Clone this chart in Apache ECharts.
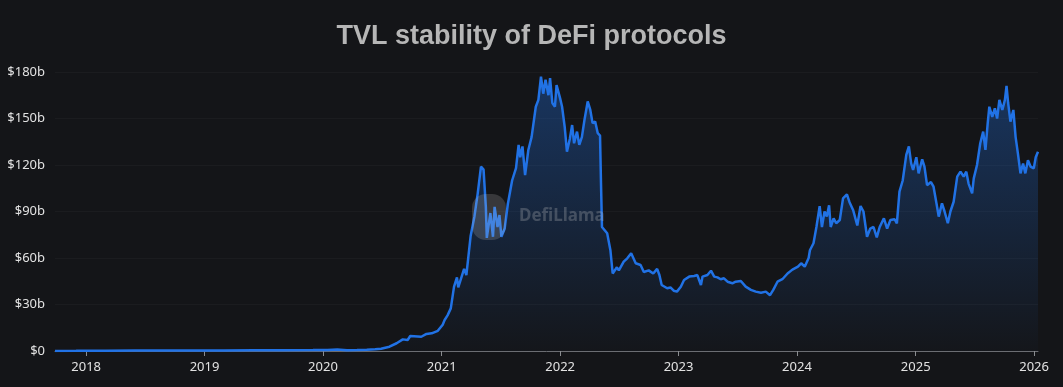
<!DOCTYPE html>
<html>
<head>
<meta charset="utf-8">
<script src="https://cdn.jsdelivr.net/npm/echarts@6/dist/echarts.min.js"></script>
<style>
html,body{margin:0;padding:0;background:#141518;}
#chart{width:1063px;height:387px;}
</style>
</head>
<body>
<div id="chart"></div>
<script>
const titleText = 'TVL stability of DeFi protocols';
const yTicks = [0, 30, 60, 90, 120, 150, 180];
const dates = [
'2017-09-27','2017-12-01','2018-03-01','2018-06-01','2018-09-01','2018-12-01','2019-03-01','2019-06-01','2019-09-01','2019-12-01',
'2020-01-15','2020-02-14','2020-03-15','2020-04-15','2020-05-15','2020-06-10','2020-06-28','2020-07-24','2020-08-15','2020-09-03',
'2020-09-18','2020-09-26','2020-10-30','2020-11-15','2020-12-01','2020-12-20','2021-01-04','2021-01-10','2021-01-19','2021-01-29',
'2021-02-08','2021-02-17','2021-02-21','2021-03-11','2021-03-18','2021-03-31','2021-04-12','2021-04-22','2021-05-02','2021-05-10',
'2021-05-17','2021-05-20','2021-05-31','2021-06-08','2021-06-13','2021-06-22','2021-06-28','2021-07-04','2021-07-14','2021-07-24',
'2021-08-06','2021-08-18','2021-08-26','2021-08-31','2021-09-07','2021-09-15','2021-09-25','2021-10-05','2021-10-18','2021-10-26',
'2021-11-03','2021-11-10','2021-11-17','2021-11-26','2021-12-01','2021-12-08','2021-12-16','2021-12-21','2022-01-01','2022-01-07',
'2022-01-15','2022-01-22','2022-01-31','2022-02-07','2022-02-13','2022-02-22','2022-03-01','2022-03-09','2022-03-17','2022-03-27',
'2022-04-04','2022-04-11','2022-04-19','2022-04-27','2022-05-04','2022-05-07','2022-05-10','2022-05-15','2022-05-26','2022-06-05',
'2022-06-12','2022-06-25','2022-07-01','2022-07-16','2022-07-27','2022-08-08','2022-08-22','2022-09-06','2022-09-16','2022-10-01',
'2022-10-15','2022-10-27','2022-11-03','2022-11-10','2022-11-27','2022-12-07','2022-12-17','2022-12-27','2023-01-08','2023-01-18',
'2023-02-03','2023-02-18','2023-02-28','2023-03-11','2023-03-16','2023-03-31','2023-04-11','2023-04-21','2023-05-01','2023-05-11',
'2023-05-21','2023-06-01','2023-06-16','2023-06-26','2023-07-12','2023-07-27','2023-08-12','2023-08-27','2023-09-12','2023-09-27',
'2023-10-10','2023-10-20','2023-11-02','2023-11-17','2023-12-03','2023-12-18','2024-01-04','2024-01-14','2024-01-25','2024-02-06',
'2024-02-10','2024-02-21','2024-03-01','2024-03-11','2024-03-18','2024-03-26','2024-04-02','2024-04-09','2024-04-14','2024-04-23',
'2024-05-01','2024-05-12','2024-05-22','2024-06-03','2024-06-11','2024-06-22','2024-07-05','2024-07-15','2024-07-24','2024-08-04',
'2024-08-14','2024-08-24','2024-09-03','2024-09-12','2024-09-25','2024-10-05','2024-10-15','2024-10-28','2024-11-04','2024-11-12',
'2024-11-22','2024-12-03','2024-12-11','2024-12-18','2024-12-24','2025-01-03','2025-01-10','2025-01-21','2025-01-28','2025-02-05',
'2025-02-17','2025-02-25','2025-03-06','2025-03-13','2025-03-23','2025-03-31','2025-04-10','2025-04-18','2025-04-28','2025-05-09',
'2025-05-19','2025-05-29','2025-06-06','2025-06-13','2025-06-24','2025-06-29','2025-07-09','2025-07-19','2025-07-28','2025-08-04',
'2025-08-11','2025-08-16','2025-08-25','2025-09-02','2025-09-09','2025-09-16','2025-09-25','2025-10-03','2025-10-08','2025-10-13',
'2025-10-20','2025-10-29','2025-11-05','2025-11-12','2025-11-20','2025-11-28','2025-12-05','2025-12-13','2025-12-21','2025-12-31',
'2026-01-06','2026-01-13'
];
const tvl = [
0.05,0.1,0.2,0.25,0.28,0.27,0.35,0.5,0.55,0.6,
0.7,1.0,0.55,0.6,0.8,1.1,1.5,2.8,5,7.5,
7.1,9.7,9.2,11,11.4,13,17,20,23,27.5,
41.5,47.5,41,53,49,74,87,101.7,119,117,
93,73,89,73.7,93,80,87.7,73.7,79,95,
110,118,133,125,132,113.5,129.7,138,157.6,162,
177,166,175,165,176,160,157.6,171.6,163,157.6,
144.7,128.6,137,145.8,134,141.5,133,138,149,161,
155.5,147,148,140.5,139,108,80,79,76,65,
50,54,52,57.6,59.8,63,56.6,55.5,51,52,
50,53,49,42.6,40.5,41,38.9,38.3,41.5,45.8,
48,48.4,49,42.6,48,49,51.8,48,47.5,46.3,
46.9,44.7,43.7,44.7,45.2,41.5,39.4,38.3,37.6,38.3,
36,39.4,44.7,46.3,50,52.5,54.4,56.6,54.4,60,
65,69.5,80,93.5,80,90,86.7,94,80,85.6,
82.4,84.5,98.5,101,96,91,81,93.5,90,73.7,
79,80,73.3,80,85.6,79,84.5,85,82.4,102.8,
110,126.5,132,121,116.8,125,114.6,123.7,119,107,
109,106,95.3,86.7,95.3,90,82.4,90,96.3,112.5,
115.7,112.5,115.7,108,101.7,111.4,120,134,141.5,129.7,
147,157.6,151,156.6,150,162,155.5,162,171,160,
148,155.5,138,127.5,114.6,121,114.6,123,119,117.8,
125,128.6
];

const seriesData = dates.map((d, i) => [d, tvl[i]]);
const chart = echarts.init(document.getElementById('chart'), null, {renderer: 'canvas'});
chart.setOption({
  backgroundColor: '#141518',
  animation: false,
  title: {
    text: titleText,
    left: 'center',
    top: 18,
    textStyle: {color: '#b6b6b6', fontSize: 27, fontWeight: 'bold', fontFamily: 'Liberation Sans, Arial, sans-serif'}
  },
  grid: {left: 55, right: 25, top: 72, bottom: 36, containLabel: false},
  xAxis: {
    type: 'time',
    min: dates[0],
    max: dates[dates.length - 1],
    splitNumber: 8,
    minInterval: 365 * 86400000,
    axisLine: {show: true, lineStyle: {color: '#6b6d72', width: 1}},
    axisTick: {show: true, length: 5, lineStyle: {color: '#8a8c90'}},
    splitLine: {show: false},
    axisLabel: {
      color: '#e2e2e2', fontSize: 13, fontFamily: 'Noto Sans, Open Sans, sans-serif',
      margin: 10, formatter: '{yyyy}', showMinLabel: false, showMaxLabel: false
    }
  },
  yAxis: {
    type: 'value',
    min: yTicks[0],
    max: yTicks[yTicks.length - 1],
    interval: 30,
    axisLine: {show: false},
    axisTick: {show: false},
    splitLine: {show: true, lineStyle: {color: 'rgba(255,255,255,0.03)', width: 1}},
    axisLabel: {
      color: '#e2e2e2', fontSize: 13, fontFamily: 'Noto Sans, Open Sans, sans-serif', margin: 10,
      formatter: v => v === 0 ? '$0' : '$' + v + 'b'
    }
  },
  graphic: [
    {
      type: 'rect', left: 472, top: 194, z: 100,
      shape: {width: 34, height: 46, r: 14},
      style: {fill: 'rgba(200,200,200,0.2)'}
    },
    {
      type: 'text', left: 519, top: 208, z: 100,
      style: {text: 'DefiLlama', fill: 'rgba(200,200,200,0.26)', font: 'bold 17px Noto Sans, sans-serif'}
    }
  ],
  series: [{
    type: 'line',
    data: seriesData,
    showSymbol: false,
    smooth: false,
    lineStyle: {color: '#2172e5', width: 2.5},
    itemStyle: {color: '#2172e5'},
    areaStyle: {
      color: new echarts.graphic.LinearGradient(0, 0, 0, 1, [
        {offset: 0, color: 'rgba(33,114,229,0.5)'},
        {offset: 1, color: 'rgba(33,114,229,0.02)'}
      ])
    }
  }]
});
</script>
</body>
</html>
